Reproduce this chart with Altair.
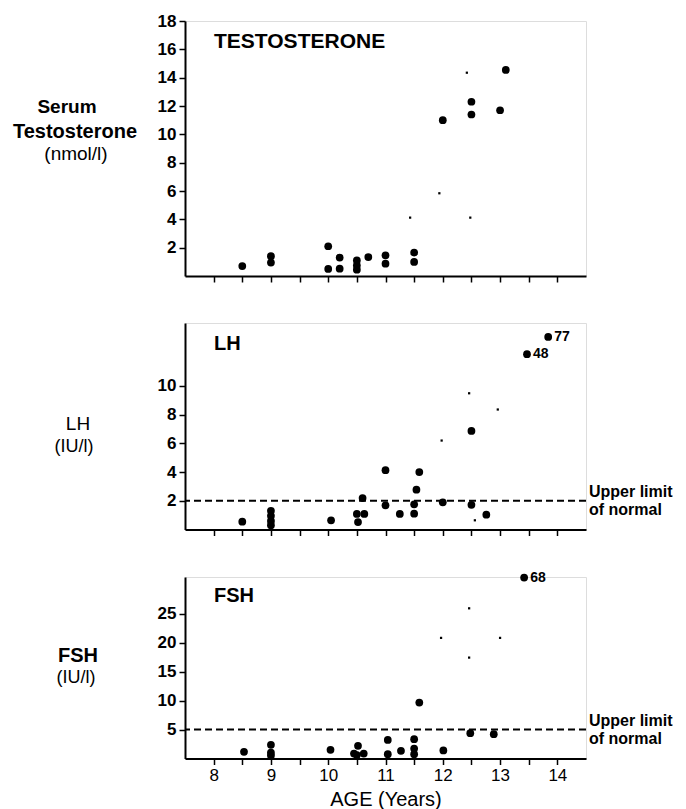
import altair as alt
import pandas as pd

FONT = "Liberation Sans"

# ---------------- data ----------------
# Testosterone (nmol/l)
T_AGE = [8.5, 9.0, 9.0, 10.0, 10.0, 10.2, 10.2, 10.5, 10.5, 10.5, 10.7, 11.0, 11.0, 11.5, 11.5, 12.0, 12.5, 12.5, 13.0, 13.1]
T_VAL = [0.7, 1.4, 0.95, 2.1, 0.5, 1.3, 0.52, 1.1, 0.75, 0.45, 1.34, 1.46, 0.87, 1.65, 0.99, 11.0, 12.3, 11.4, 11.7, 14.55]
T_SMALL_AGE = [12.42, 11.94, 11.43, 12.48]
T_SMALL_VAL = [14.35, 5.84, 4.12, 4.12]

# LH (IU/l)
L_AGE = [8.5, 9.0, 9.0, 9.0, 9.0, 10.05, 10.6, 10.5, 10.63, 10.52, 11.0, 11.0, 11.25, 11.59, 11.54, 11.5, 11.5, 12.0, 12.5, 12.5, 12.76]
L_VAL = [0.54, 1.3, 0.95, 0.6, 0.3, 0.64, 2.19, 1.08, 1.08, 0.52, 4.13, 1.68, 1.08, 4.0, 2.77, 1.75, 1.1, 1.89, 6.86, 1.72, 1.03]
L_SMALL_AGE = [12.46, 12.96, 11.98, 12.56]
L_SMALL_VAL = [9.48, 8.35, 6.19, 0.64]
L_OUT_AGE = [13.47, 13.84]
L_OUT_POS = [12.2, 13.4]          # plotted above broken axis
L_OUT_LABEL = ["48", "77"]
L_LIMIT = 2

# FSH (IU/l)
F_AGE = [8.53, 9.0, 9.0, 9.0, 10.04, 10.52, 10.45, 10.62, 10.5, 11.04, 11.04, 11.27, 11.5, 11.5, 11.5, 11.59, 12.01, 12.48, 12.89]
F_VAL = [1.15, 2.36, 1.0, 0.5, 1.5, 2.18, 0.86, 0.86, 0.6, 3.2, 0.75, 1.32, 3.33, 1.72, 0.75, 9.65, 1.38, 4.37, 4.2]
F_SMALL_AGE = [12.46, 11.97, 13.0, 12.46]
F_SMALL_VAL = [25.9, 20.8, 20.8, 17.4]
F_OUT_AGE = [13.42]
F_OUT_POS = [31.2]
F_OUT_LABEL = ["68"]
F_LIMIT = 5

X_TICKS = [8 + 0.5 * i for i in range(13)]
T_TICKS = [2, 4, 6, 8, 10, 12, 14, 16, 18]
L_TICKS = [2, 4, 6, 8, 10]
F_TICKS = [5, 10, 15, 20, 25]

W = 401
X_DOMAIN = [7.5, 14.5]


def x_enc(bottom):
    if bottom:
        axis = alt.Axis(values=X_TICKS, tickCount=50,
                        labelExpr="datum.value % 1 == 0 ? format(datum.value, 'd') : ''",
                        title="AGE (Years)", titleFontSize=20, titleFontWeight="normal",
                        titleFont=FONT, titlePadding=6, labelFont=FONT, labelFontSize=17,
                        labelPadding=3, grid=False, domainColor="black", domainWidth=2,
                        tickColor="black", tickWidth=1.5, tickSize=6, labelColor="black",
                        titleColor="black", labelFlush=False, labelOverlap=False)
    else:
        axis = alt.Axis(values=X_TICKS, tickCount=50, labels=False, title=None, grid=False,
                        domainColor="black", domainWidth=2, tickColor="black",
                        tickWidth=1.5, tickSize=6)
    return alt.X("age:Q", scale=alt.Scale(domain=X_DOMAIN, nice=False, zero=False), axis=axis)


def y_enc(dom, ticks):
    return alt.Y("val:Q", scale=alt.Scale(domain=dom, nice=False, zero=True),
                 axis=alt.Axis(values=ticks, tickCount=50, format="d", title=None, grid=False,
                               domainColor="black",
                               domainWidth=2, tickColor="black", tickWidth=1.5, tickSize=6,
                               labelFont=FONT, labelFontSize=17, labelFontWeight="bold",
                               labelColor="black", labelPadding=3, labelOverlap=False,
                               labelFlush=False))


def text_layer(txt, x, y, size, weight="bold", align="center"):
    return alt.Chart(pd.DataFrame({"t": [txt]})).mark_text(
        font=FONT, fontSize=size, fontWeight=weight, align=align, baseline="middle",
        color="black").encode(text="t:N", x=alt.value(x), y=alt.value(y))


def panel(age, val, sage, sval, dom, ticks, height, bottom, title, title_y, ylabels,
          limit=None, out=None):
    df = pd.DataFrame({"age": age, "val": val})
    sdf = pd.DataFrame({"age": sage, "val": sval})
    xe = x_enc(bottom)
    ye = y_enc(dom, ticks)
    layers = [
        alt.Chart(df).mark_circle(size=60, color="black", opacity=1).encode(x=xe, y=ye),
        alt.Chart(sdf).mark_square(size=5, color="black", opacity=1).encode(x="age:Q", y="val:Q"),
        text_layer(title, 29, title_y, 21 if len(title) > 3 else 20, align="left"),
    ]
    for (txt, x, y, size, weight) in ylabels:
        layers.append(text_layer(txt, x, y, size, weight))
    if limit is not None:
        ldf = pd.DataFrame({"v": [limit]})
        layers.append(alt.Chart(ldf).mark_rule(color="black", strokeWidth=2, strokeDash=[7, 4])
                      .encode(y="v:Q"))
        for txt, dy in (("Upper limit", -9), ("of normal", 9)):
            layers.append(alt.Chart(pd.DataFrame({"v": [limit], "t": [txt]})).mark_text(
                font=FONT, fontSize=16, fontWeight="bold", align="left", baseline="middle",
                dy=dy, color="black").encode(x=alt.value(404), y="v:Q", text="t:N"))
    if out is not None:
        oage, opos, olab = out
        odf = pd.DataFrame({"age": oage, "val": opos, "lab": olab})
        layers.append(alt.Chart(odf).mark_circle(size=60, color="black", opacity=1)
                      .encode(x="age:Q", y="val:Q"))
        layers.append(alt.Chart(odf).mark_text(font=FONT, fontSize=14, fontWeight="bold",
                                               align="left", baseline="middle", dx=6,
                                               color="black")
                      .encode(x="age:Q", y="val:Q", text="lab:N"))
    return alt.layer(*layers).properties(width=W, height=height)


p_t = panel(T_AGE, T_VAL, T_SMALL_AGE, T_SMALL_VAL, [0, 18], T_TICKS, 255, False,
            "TESTOSTERONE", 21,
            [("Serum", -118, 86, 19, "bold"), ("Testosterone", -110, 111, 20, "bold"),
             ("(nmol/l)", -109, 133, 19, "normal")])

p_l = panel(L_AGE, L_VAL, L_SMALL_AGE, L_SMALL_VAL, [0, 14.37], L_TICKS, 206.5, False,
            "LH", 21,
            [("LH", -107, 101, 19, "normal"), ("(IU/l)", -111, 124, 18, "normal")],
            limit=L_LIMIT, out=(L_OUT_AGE, L_OUT_POS, L_OUT_LABEL))

p_f = panel(F_AGE, F_VAL, F_SMALL_AGE, F_SMALL_VAL, [0, 31.3], F_TICKS, 181.5, True,
            "FSH", 18.5,
            [("FSH", -107, 78.5, 20, "bold"), ("(IU/l)", -109, 100.5, 18, "normal")],
            limit=F_LIMIT, out=(F_OUT_AGE, F_OUT_POS, F_OUT_LABEL))

chart = alt.vconcat(p_t, p_l, p_f, spacing=47, bounds="flush").properties(
    padding={"left": 4, "top": 3, "right": 0, "bottom": 0}
).configure_view(stroke=None).configure(background="white")

chart.save("out.html", embed_options={"renderer": "svg", "actions": False})
